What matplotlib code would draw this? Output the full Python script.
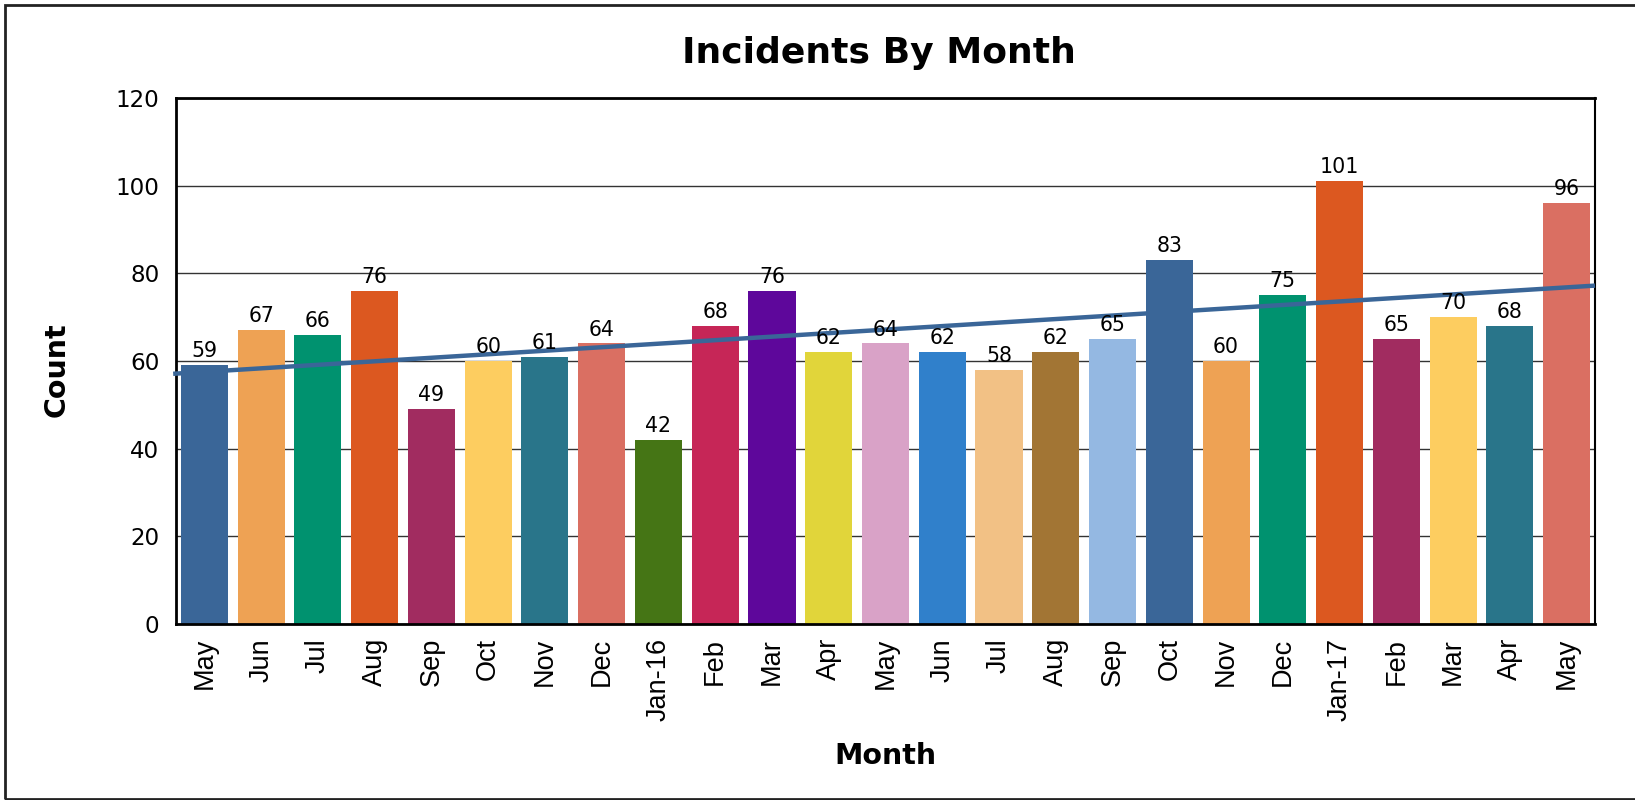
import matplotlib
matplotlib.use("Agg")
import matplotlib.pyplot as plt
import matplotlib.patches as patches
import numpy as np

# data
months = ["May", "Jun", "Jul", "Aug", "Sep", "Oct", "Nov", "Dec", "Jan-16",
          "Feb", "Mar", "Apr", "May", "Jun", "Jul", "Aug", "Sep", "Oct",
          "Nov", "Dec", "Jan-17", "Feb", "Mar", "Apr", "May"]
counts = [59, 67, 66, 76, 49, 60, 61, 64, 42, 68, 76, 62, 64, 62, 58, 62,
          65, 83, 60, 75, 101, 65, 70, 68, 96]

palette = ["#3A6698", "#EEA254", "#00926F", "#DC5820", "#A12C60", "#FDCD60",
           "#29758A", "#DA6F62", "#457515", "#C62657", "#5E079B", "#E1D53A",
           "#D9A2C7", "#3080CB", "#F2C185", "#A27534", "#94B8E2"]
colors = [palette[i % len(palette)] for i in range(len(counts))]

fig = plt.figure(figsize=(16.35, 8), dpi=100)
ax = fig.add_axes([176/1635, 1 - 624/800, (1595 - 176)/1635, (624 - 98)/800])

x = np.arange(len(counts))
ax.bar(x, counts, width=0.83, color=colors, zorder=2)

for xi, c in zip(x, counts):
    ax.text(xi, c + 0.9, str(c), ha="center", va="bottom", fontsize=14.8,
            family="DejaVu Sans", zorder=4)

# linear trend
slope, icpt = np.polyfit(x, counts, 1)
tx = np.array([-0.55, len(counts) - 0.5])
ax.plot(tx, slope * tx + icpt, color="#3A6698", lw=3.2, zorder=3,
        solid_capstyle="butt", clip_on=False)

ax.set_xlim(-0.5, len(counts) - 0.5)
ax.set_ylim(0, 120)
ax.set_yticks(range(0, 121, 20))
ax.yaxis.grid(True, color="#333333", lw=1.0, zorder=0)
ax.set_axisbelow(True)

ax.set_xticks(x)
ax.set_xticklabels(months, rotation=90, fontsize=19.5, family="Liberation Sans")
ax.tick_params(axis="x", length=0, pad=10)
ax.tick_params(axis="y", length=0, pad=12, labelsize=16.6)

for s in ["left", "bottom", "top"]:
    ax.spines[s].set_linewidth(2)
ax.spines["right"].set_linewidth(1.5)

fig.text(879/1635, 1 - 63/800, "Incidents By Month", ha="center", va="baseline",
         fontsize=26, fontweight="bold", family="DejaVu Sans")
fig.text(885/1635, 1 - 764/800, "Month", ha="center", va="baseline",
         fontsize=20.5, fontweight="bold", family="DejaVu Sans")
fig.text(57/1635, 1 - 370/800, "Count", ha="center", va="center", rotation=90,
         fontsize=20.5, fontweight="bold", family="DejaVu Sans")

# outer frame
fig.patches.append(patches.Rectangle((5/1635, 1.5/800), 1.1, 794/800,
                                     transform=fig.transFigure, fill=False,
                                     edgecolor="#222222", lw=2))

fig.savefig("out.png", dpi=100)
